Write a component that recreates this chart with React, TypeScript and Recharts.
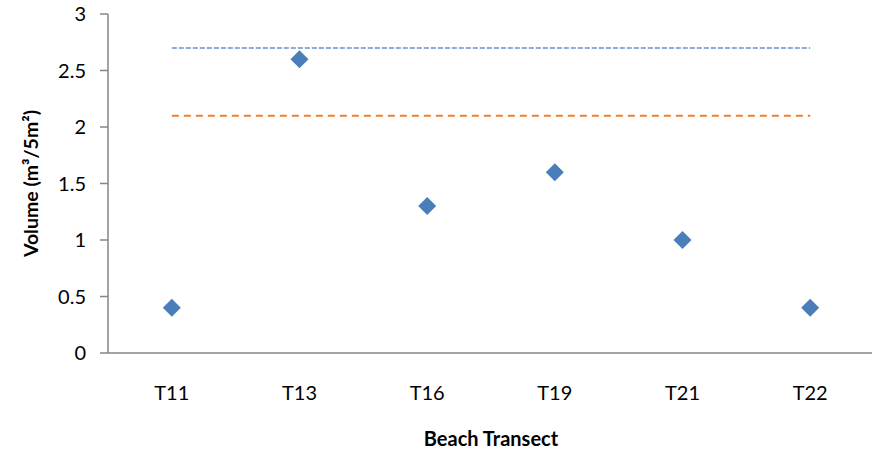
import { ComposedChart, Scatter, Line, XAxis, YAxis, Label } from "recharts";

const transects = ["T11", "T13", "T16", "T19", "T21", "T22"];
const volumes = [0.4, 2.6, 1.3, 1.6, 1.0, 0.4];
const upperLevel = [2.7, 2.7, 2.7, 2.7, 2.7, 2.7];
const lowerLevel = [2.1, 2.1, 2.1, 2.1, 2.1, 2.1];
const yTicks = [0, 0.5, 1, 1.5, 2, 2.5, 3];

const data = transects.map((name, i) => ({
  name,
  volume: volumes[i],
  upper: upperLevel[i],
  lower: lowerLevel[i],
}));

const FONT = "Lato, 'Liberation Sans', sans-serif";
const AXIS_GREY = "#868686";
const PLOT_TOP = 14;
const PLOT_BOTTOM = 353;

const Diamond = (props: any) => {
  const { cx, cy } = props;
  const r = 9;
  return (
    <polygon
      points={`${cx},${cy - r} ${cx + r},${cy} ${cx},${cy + r} ${cx - r},${cy}`}
      fill="#4a7ebb"
    />
  );
};

// vertical title centred on the plot area, not the whole axis box
const YTitle = () => {
  const cy = (PLOT_TOP + PLOT_BOTTOM) / 2;
  return (
    <text
      x={30}
      y={cy}
      transform={`rotate(-90, 30, ${cy})`}
      textAnchor="middle"
      dominantBaseline="central"
      fontFamily={FONT}
      fontWeight="bold"
      fontSize={19.5}
      fill="#000"
    >
      Volume (m³/5m²)
    </text>
  );
};

export default function App() {
  return (
    <div style={{ position: "absolute", left: 0, top: 0, background: "#fff" }}>
      <ComposedChart
        width={872}
        height={453}
        data={data}
        margin={{ top: PLOT_TOP, right: -2, left: 0, bottom: 0 }}
      >
        <XAxis
          dataKey="name"
          scale="band"
          height={453 - PLOT_BOTTOM}
          tickLine={false}
          tickSize={0}
          tickMargin={33}
          axisLine={{ stroke: AXIS_GREY, strokeWidth: 1.5 }}
          tick={{ fontFamily: FONT, fontSize: 20, fill: "#000" }}
        >
          <Label
            value="Beach Transect"
            position="insideBottom"
            offset={7}
            style={{ fontFamily: FONT, fontWeight: "bold", fontSize: 20, fill: "#000" }}
          />
        </XAxis>
        <YAxis
          width={108}
          domain={[0, 3]}
          ticks={yTicks}
          tickSize={8}
          tickMargin={14}
          axisLine={{ stroke: AXIS_GREY, strokeWidth: 1.5 }}
          tickLine={{ stroke: AXIS_GREY, strokeWidth: 1.5 }}
          tick={{ fontFamily: FONT, fontSize: 20, fill: "#000" }}
        >
          <Label content={<YTitle />} />
        </YAxis>
        <Line
          dataKey="upper"
          stroke="#8eaadb"
          strokeWidth={2}
          strokeDasharray="5 2"
          dot={false}
          activeDot={false}
          isAnimationActive={false}
        />
        <Line
          dataKey="lower"
          stroke="#ed7d31"
          strokeWidth={2}
          strokeDasharray="7 5"
          dot={false}
          activeDot={false}
          isAnimationActive={false}
        />
        <Scatter dataKey="volume" shape={<Diamond />} isAnimationActive={false} />
      </ComposedChart>
    </div>
  );
}
